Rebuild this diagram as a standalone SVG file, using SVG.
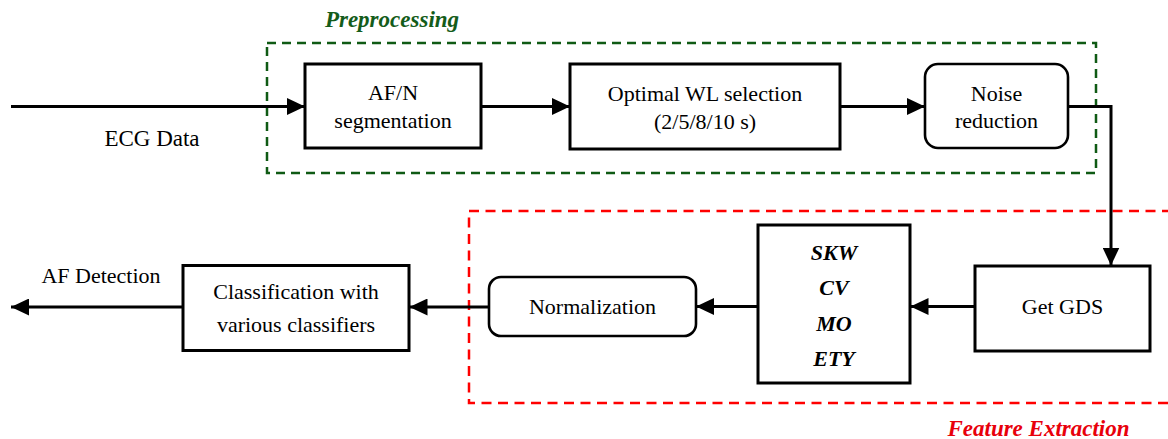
<svg xmlns="http://www.w3.org/2000/svg" width="1168" height="439" viewBox="0 0 1168 439">
<defs>
<style>
.box{fill:#fff;stroke:#000;stroke-width:3}
.rbox{fill:#fff;stroke:#000;stroke-width:2.6}
.t{font-family:"Liberation Serif","Times New Roman",serif;font-size:22px;fill:#000;text-anchor:middle}
.bi{font-weight:bold;font-style:italic}
.lbl{font-size:23px}
.conn{fill:none;stroke:#000;stroke-width:3}
.grp-g{fill:none;stroke:#0f5a14;stroke-width:2.5;stroke-dasharray:9 6}
.grp-r{fill:none;stroke:#f00;stroke-width:2.5;stroke-dasharray:10 6.5}
</style>
<marker id="ah" markerUnits="userSpaceOnUse" markerWidth="18" markerHeight="17" refX="18" refY="8.5" orient="auto">
<path d="M0,0 L18,8.5 L0,17 z" fill="#000"/>
</marker>
</defs>

<g id="preprocessing-group">
<rect class="grp-g" x="267" y="43" width="829" height="130"/>
<text class="t bi lbl" x="392" y="27" style="fill:#145c1a">Preprocessing</text>
</g>

<g id="feature-extraction-group">
<path class="grp-r" d="M1172,211 H469 V403 H1172"/>
<text class="t bi lbl" x="1038.5" y="436" style="fill:#e8000b">Feature Extraction</text>
</g>

<g id="connectors">
<path class="conn" d="M11,106.5 H305" marker-end="url(#ah)"/>
<path class="conn" d="M481,106.5 H570" marker-end="url(#ah)"/>
<path class="conn" d="M840,106.5 H925" marker-end="url(#ah)"/>
<path class="conn" d="M1068,106.5 H1111 V265.5" marker-end="url(#ah)"/>
<path class="conn" d="M975,306.5 H910.5" marker-end="url(#ah)"/>
<path class="conn" d="M758,306.5 H696" marker-end="url(#ah)"/>
<path class="conn" d="M489,307 H409.5" marker-end="url(#ah)"/>
<path class="conn" d="M183,307 H11" marker-end="url(#ah)"/>
</g>

<g id="ecg-data-label">
<text class="t lbl" x="152" y="146">ECG Data</text>
</g>

<g id="af-detection-label">
<text class="t" x="101" y="283">AF Detection</text>
</g>

<g id="afn-segmentation">
<rect class="box" x="305" y="64" width="176" height="84"/>
<text class="t" x="393" y="100">AF/N</text>
<text class="t" x="393" y="128">segmentation</text>
</g>

<g id="optimal-wl">
<rect class="box" x="570" y="64" width="270" height="85"/>
<text class="t" x="705" y="101">Optimal WL selection</text>
<text class="t" x="705" y="129">(2/5/8/10 s)</text>
</g>

<g id="noise-reduction">
<rect class="rbox" x="925" y="64" width="143" height="84" rx="13" ry="13"/>
<text class="t" x="996.5" y="101">Noise</text>
<text class="t" x="996.5" y="128">reduction</text>
</g>

<g id="get-gds">
<rect class="box" x="975" y="266" width="175" height="85"/>
<text class="t" x="1062.5" y="314">Get GDS</text>
</g>

<g id="features">
<rect class="box" x="758" y="225" width="152" height="158"/>
<text class="t bi" x="834" y="260">SKW</text>
<text class="t bi" x="834" y="295">CV</text>
<text class="t bi" x="834" y="331">MO</text>
<text class="t bi" x="834" y="366">ETY</text>
</g>

<g id="normalization">
<rect class="rbox" x="489" y="277" width="207" height="59" rx="12" ry="12"/>
<text class="t" x="592.5" y="314">Normalization</text>
</g>

<g id="classification">
<rect class="box" x="183" y="265.5" width="226" height="85"/>
<text class="t" x="296" y="299">Classification with</text>
<text class="t" x="296" y="332">various classifiers</text>
</g>
</svg>
